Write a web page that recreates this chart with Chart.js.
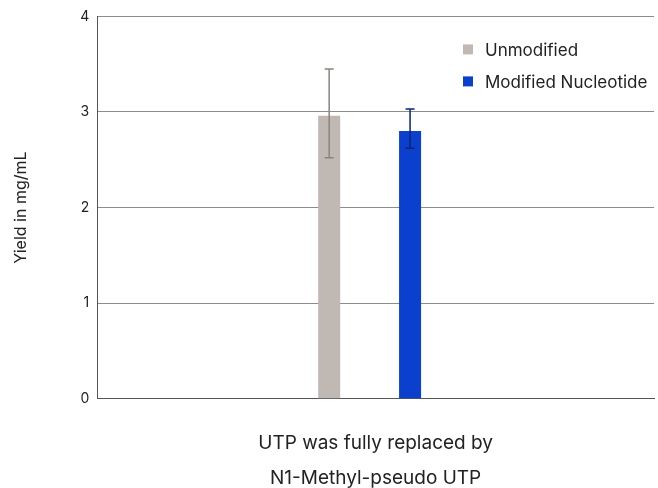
<!DOCTYPE html>
<html>
<head>
<meta charset="utf-8">
<script src="https://cdn.jsdelivr.net/npm/chart.js@4.4.1/dist/chart.umd.min.js"></script>
<style>
  html, body { margin: 0; padding: 0; background: #fff; }
  #wrap { width: 658px; height: 488px; }
</style>
</head>
<body>
<div id="wrap"><canvas id="myChart"></canvas></div>
<script>
var categories = ['UTP was fully replaced by N1-Methyl-pseudo UTP'];
var seriesNames = ['Unmodified', 'Modified Nucleotide'];
var unmodified = [2.96];
var modified = [2.80];
var unmodifiedErrLow = [2.52];
var unmodifiedErrHigh = [3.45];
var modifiedErrLow = [2.62];
var modifiedErrHigh = [3.03];
var yTicks = [0, 1, 2, 3, 4];
var barColors = ['#c0b8b3', '#0b40cf'];
var errColors = ['#8a8480', '#0a2470'];

var FONT = 'Inter, "Liberation Sans", sans-serif';

// the bar group sits a little left of the plot centre
var shiftGroup = {
    id: 'shiftGroup',
    afterLayout: function (chart) {
        chart.scales.x._length -= 12;
    }
};

// error bars drawn on top of the bars
var errorBars = {
    id: 'errorBars',
    afterDatasetsDraw: function (chart) {
        var ctx = chart.ctx;
        var y = chart.scales.y;
        var lows = [unmodifiedErrLow, modifiedErrLow];
        var highs = [unmodifiedErrHigh, modifiedErrHigh];
        chart.data.datasets.forEach(function (ds, i) {
            var meta = chart.getDatasetMeta(i);
            meta.data.forEach(function (bar, j) {
                var yl = y.getPixelForValue(lows[i][j]);
                var yh = y.getPixelForValue(highs[i][j]);
                ctx.save();
                ctx.strokeStyle = errColors[i];
                ctx.lineWidth = 1.5;
                ctx.beginPath();
                ctx.moveTo(bar.x, yl); ctx.lineTo(bar.x, yh);
                ctx.moveTo(bar.x - 4.5, yl); ctx.lineTo(bar.x + 4.5, yl);
                ctx.moveTo(bar.x - 4.5, yh); ctx.lineTo(bar.x + 4.5, yh);
                ctx.stroke();
                ctx.restore();
            });
        });
    }
};

// legend sits inside the plot, top right
var innerLegend = {
    id: 'innerLegend',
    afterDraw: function (chart) {
        var ctx = chart.ctx;
        var x0 = chart.chartArea.right - 191;
        var y0 = chart.chartArea.top + 33;
        ctx.save();
        ctx.font = '17px ' + FONT;
        ctx.textBaseline = 'middle';
        seriesNames.forEach(function (name, i) {
            var yy = y0 + i * 32;
            ctx.fillStyle = barColors[i];
            ctx.fillRect(x0, yy - 5, 10, 10);
            ctx.fillStyle = '#222';
            ctx.fillText(name, x0 + 22, yy + 1);
        });
        ctx.restore();
    }
};

new Chart('myChart', {
    type: 'bar',
    data: {
        labels: categories,
        datasets: [{
            label: seriesNames[0],
            data: unmodified,
            backgroundColor: barColors[0]
        }, {
            label: seriesNames[1],
            data: modified,
            backgroundColor: barColors[1]
        }]
    },
    options: {
        responsive: true,
        maintainAspectRatio: false,
        animation: false,
        layout: { padding: { left: 12, right: 4, top: 8, bottom: 0 } },
        datasets: {
            bar: { categoryPercentage: 0.297, barPercentage: 0.272 }
        },
        plugins: {
            legend: { display: false },
            tooltip: { enabled: false }
        },
        scales: {
            x: {
                grid: { display: false, drawTicks: false },
                border: { color: '#555', width: 1 },
                ticks: { display: false },
                title: {
                    display: true,
                    text: ['UTP was fully replaced by', 'N1-Methyl-pseudo UTP'],
                    color: '#222',
                    font: { family: FONT, size: 19, lineHeight: 1.85 },
                    padding: { top: 27, bottom: -8 }
                }
            },
            y: {
                min: 0,
                max: 4,
                afterBuildTicks: function (axis) {
                    axis.ticks = yTicks.map(function (v) { return { value: v }; });
                },
                grid: { color: '#8c8c8c', lineWidth: 1, drawTicks: false },
                border: { color: '#555', width: 1 },
                ticks: {
                    color: '#222',
                    padding: 8,
                    font: { family: FONT, size: 14 }
                },
                title: {
                    display: true,
                    text: 'Yield in mg/mL',
                    color: '#222',
                    font: { family: FONT, size: 16 },
                    padding: { top: 0, bottom: 41 }
                }
            }
        }
    },
    plugins: [shiftGroup, errorBars, innerLegend]
});
</script>
</body>
</html>
